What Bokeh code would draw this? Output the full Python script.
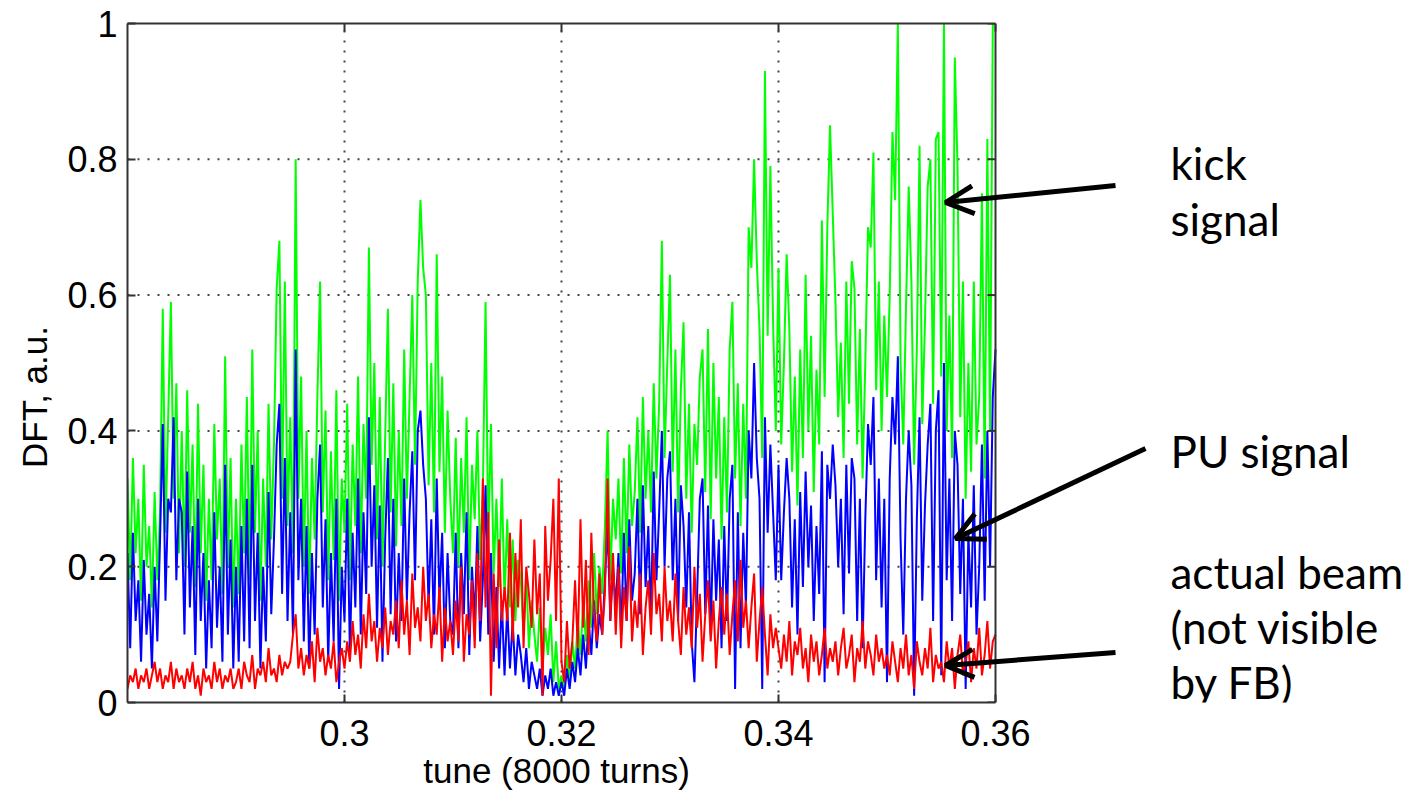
import numpy as np
from bokeh.plotting import figure
from bokeh.models import (Range1d, FixedTicker, CustomJSTickFormatter, Label,
                          Arrow, OpenHead, LinearAxis, Title)
from bokeh.embed import file_html
from bokeh.resources import INLINE

# ---------------- data ----------------
TUNE_START = 0.28
TUNE_STEP = 0.00025  # plotted every second DFT bin

kick_signal = [
    0.33, 0.18, 0.36, 0.22, 0.30, 0.15, 0.35, 0.20, 0.26, 0.14, 0.31, 0.18, 0.28, 0.58, 0.25, 0.42, 0.59, 0.30, 0.47, 0.22,
    0.40, 0.20, 0.46, 0.25, 0.38, 0.17, 0.44, 0.22, 0.35, 0.15, 0.30, 0.18, 0.41, 0.24, 0.33, 0.16, 0.51, 0.20, 0.36, 0.14,
    0.30, 0.16, 0.38, 0.22, 0.45, 0.18, 0.52, 0.25, 0.40, 0.15, 0.33, 0.20, 0.44, 0.24, 0.38, 0.61, 0.68, 0.30, 0.62, 0.26,
    0.42, 0.22, 0.80, 0.30, 0.48, 0.20, 0.40, 0.16, 0.36, 0.24, 0.45, 0.62, 0.28, 0.43, 0.18, 0.37, 0.21, 0.46, 0.15, 0.33,
    0.25, 0.44, 0.18, 0.38, 0.26, 0.48, 0.22, 0.41, 0.30, 0.67, 0.35, 0.50, 0.24, 0.45, 0.20, 0.39, 0.58, 0.28, 0.47, 0.23,
    0.40, 0.26, 0.52, 0.30, 0.45, 0.60, 0.35, 0.62, 0.74, 0.64, 0.60, 0.32, 0.50, 0.28, 0.66, 0.34, 0.48, 0.25, 0.43, 0.30,
    0.22, 0.39, 0.20, 0.36, 0.25, 0.42, 0.18, 0.35, 0.27, 0.40, 0.21, 0.31, 0.59, 0.24, 0.41, 0.19, 0.30, 0.17, 0.33, 0.15,
    0.27, 0.14, 0.24, 0.12, 0.21, 0.18, 0.10, 0.19, 0.08, 0.15, 0.10, 0.06, 0.14, 0.05, 0.11, 0.07, 0.13, 0.03, 0.09, 0.02,
    0.04, 0.02, 0.07, 0.03, 0.09, 0.05, 0.12, 0.07, 0.15, 0.09, 0.18, 0.11, 0.22, 0.13, 0.20, 0.16, 0.26, 0.40, 0.18, 0.30,
    0.24, 0.33, 0.19, 0.36, 0.22, 0.38, 0.26, 0.31, 0.42, 0.25, 0.45, 0.30, 0.40, 0.28, 0.47, 0.33, 0.44, 0.68, 0.36, 0.50,
    0.63, 0.34, 0.52, 0.28, 0.46, 0.56, 0.30, 0.44, 0.25, 0.41, 0.35, 0.48, 0.52, 0.31, 0.55, 0.27, 0.50, 0.33, 0.45, 0.24,
    0.42, 0.28, 0.52, 0.59, 0.33, 0.47, 0.26, 0.44, 0.30, 0.70, 0.64, 0.80, 0.65, 0.55, 0.36, 0.93, 0.54, 0.79, 0.56, 0.40,
    0.64, 0.38, 0.50, 0.66, 0.55, 0.34, 0.48, 0.29, 0.52, 0.36, 0.63, 0.40, 0.54, 0.31, 0.49, 0.38, 0.71, 0.45, 0.70, 0.85,
    0.72, 0.59, 0.42, 0.53, 0.36, 0.62, 0.44, 0.65, 0.61, 0.38, 0.55, 0.33, 0.50, 0.70, 0.67, 0.81, 0.46, 0.62, 0.40, 0.57,
    0.45, 0.60, 0.84, 0.74, 1.00, 0.50, 0.38, 0.58, 0.76, 0.62, 0.35, 0.52, 0.82, 0.41, 0.56, 0.76, 0.80, 0.44, 0.83, 0.84,
    0.48, 1.00, 0.40, 0.57, 0.36, 0.95, 0.79, 0.42, 0.62, 0.30, 0.50, 0.34, 0.62, 0.38, 0.45, 0.75, 0.33, 0.83, 0.40, 1.00, 1.00,
]

pu_signal = [
    0.22, 0.08, 0.25, 0.12, 0.18, 0.06, 0.21, 0.10, 0.16, 0.05, 0.20, 0.09, 0.24, 0.41, 0.15, 0.30, 0.28, 0.42, 0.18, 0.30,
    0.28, 0.10, 0.34, 0.14, 0.26, 0.07, 0.30, 0.12, 0.22, 0.05, 0.18, 0.08, 0.28, 0.11, 0.20, 0.06, 0.35, 0.10, 0.24, 0.05,
    0.20, 0.06, 0.26, 0.09, 0.30, 0.08, 0.35, 0.12, 0.25, 0.05, 0.20, 0.09, 0.31, 0.13, 0.24, 0.38, 0.44, 0.16, 0.36, 0.12,
    0.28, 0.10, 0.52, 0.18, 0.30, 0.09, 0.26, 0.05, 0.22, 0.10, 0.30, 0.38, 0.14, 0.27, 0.06, 0.22, 0.09, 0.30, 0.02, 0.20,
    0.12, 0.30, 0.07, 0.25, 0.14, 0.33, 0.10, 0.28, 0.16, 0.42, 0.20, 0.32, 0.11, 0.29, 0.06, 0.24, 0.36, 0.13, 0.30, 0.09,
    0.22, 0.12, 0.33, 0.15, 0.28, 0.37, 0.18, 0.40, 0.43, 0.35, 0.30, 0.14, 0.27, 0.10, 0.33, 0.15, 0.25, 0.08, 0.22, 0.12,
    0.10, 0.25, 0.08, 0.22, 0.13, 0.28, 0.07, 0.20, 0.12, 0.26, 0.09, 0.18, 0.32, 0.10, 0.22, 0.06, 0.17, 0.05, 0.15, 0.04,
    0.14, 0.05, 0.12, 0.04, 0.10, 0.07, 0.03, 0.08, 0.02, 0.06, 0.04, 0.02, 0.05, 0.01, 0.04, 0.02, 0.05, 0.01, 0.03, 0.01,
    0.03, 0.01, 0.05, 0.02, 0.06, 0.03, 0.08, 0.04, 0.10, 0.05, 0.12, 0.07, 0.15, 0.08, 0.13, 0.10, 0.18, 0.26, 0.12, 0.20,
    0.14, 0.22, 0.10, 0.25, 0.12, 0.27, 0.15, 0.19, 0.30, 0.13, 0.32, 0.17, 0.26, 0.12, 0.34, 0.18, 0.28, 0.40, 0.20, 0.33,
    0.37, 0.18, 0.30, 0.12, 0.32, 0.26, 0.14, 0.28, 0.09, 0.03, 0.16, 0.30, 0.33, 0.13, 0.29, 0.10, 0.27, 0.15, 0.24, 0.08,
    0.26, 0.12, 0.30, 0.35, 0.02, 0.28, 0.08, 0.25, 0.14, 0.40, 0.33, 0.50, 0.36, 0.30, 0.02, 0.42, 0.25, 0.38, 0.28, 0.18,
    0.35, 0.18, 0.28, 0.36, 0.30, 0.14, 0.27, 0.10, 0.31, 0.17, 0.34, 0.20, 0.29, 0.12, 0.26, 0.16, 0.37, 0.03, 0.35, 0.30,
    0.38, 0.32, 0.20, 0.30, 0.13, 0.35, 0.19, 0.36, 0.33, 0.12, 0.30, 0.08, 0.27, 0.41, 0.35, 0.45, 0.18, 0.33, 0.14, 0.30,
    0.03, 0.33, 0.45, 0.38, 0.51, 0.24, 0.10, 0.30, 0.40, 0.32, 0.01, 0.27, 0.42, 0.15, 0.29, 0.38, 0.44, 0.12, 0.40, 0.46,
    0.04, 0.50, 0.18, 0.33, 0.12, 0.40, 0.35, 0.16, 0.30, 0.02, 0.25, 0.14, 0.32, 0.10, 0.20, 0.38, 0.15, 0.40, 0.20, 0.45, 0.52,
]

actual_beam = [
    0.02, 0.04, 0.03, 0.05, 0.02, 0.04, 0.03, 0.05, 0.02, 0.04, 0.06, 0.03, 0.05, 0.02, 0.04, 0.03, 0.06, 0.02, 0.05, 0.03,
    0.04, 0.02, 0.05, 0.03, 0.06, 0.02, 0.04, 0.01, 0.05, 0.03, 0.04, 0.02, 0.06, 0.03, 0.05, 0.02, 0.04, 0.03, 0.05, 0.02,
    0.03, 0.05, 0.02, 0.06, 0.04, 0.03, 0.07, 0.02, 0.05, 0.04, 0.06, 0.03, 0.08, 0.04, 0.05, 0.03, 0.07, 0.04, 0.06, 0.05,
    0.06, 0.10, 0.13, 0.05, 0.08, 0.04, 0.07, 0.05, 0.09, 0.03, 0.11, 0.06, 0.08, 0.04, 0.07, 0.05, 0.09, 0.03, 0.06, 0.08,
    0.05, 0.09, 0.06, 0.12, 0.07, 0.10, 0.05, 0.13, 0.08, 0.16, 0.09, 0.12, 0.06, 0.11, 0.08, 0.14, 0.07, 0.12, 0.10, 0.15,
    0.08, 0.18, 0.10, 0.15, 0.07, 0.19, 0.11, 0.14, 0.09, 0.20, 0.12, 0.16, 0.08, 0.13, 0.10, 0.17, 0.06, 0.14, 0.09, 0.12,
    0.07, 0.15, 0.09, 0.20, 0.06, 0.13, 0.10, 0.18, 0.08, 0.22, 0.12, 0.33, 0.14, 0.28, 0.01, 0.19, 0.08, 0.24, 0.12, 0.17,
    0.12, 0.25, 0.09, 0.22, 0.14, 0.27, 0.08, 0.20, 0.16, 0.11, 0.24, 0.13, 0.19, 0.01, 0.26, 0.15, 0.21, 0.30, 0.12, 0.33,
    0.06, 0.03, 0.12, 0.05, 0.09, 0.18, 0.08, 0.27, 0.11, 0.21, 0.07, 0.25, 0.13, 0.09, 0.19, 0.10, 0.16, 0.33, 0.12, 0.22,
    0.10, 0.20, 0.08, 0.17, 0.12, 0.23, 0.09, 0.15, 0.11, 0.19, 0.07, 0.14, 0.18, 0.10, 0.22, 0.13, 0.16, 0.09, 0.20, 0.12,
    0.15, 0.09, 0.19, 0.12, 0.07, 0.17, 0.10, 0.14, 0.08, 0.20, 0.11, 0.16, 0.06, 0.13, 0.18, 0.09, 0.15, 0.05, 0.12, 0.17,
    0.10, 0.16, 0.07, 0.13, 0.18, 0.09, 0.21, 0.11, 0.15, 0.08, 0.14, 0.19, 0.06, 0.12, 0.17, 0.10, 0.04, 0.13, 0.08, 0.11,
    0.08, 0.05, 0.10, 0.06, 0.12, 0.04, 0.09, 0.07, 0.11, 0.05, 0.08, 0.03, 0.10, 0.06, 0.09, 0.04, 0.07, 0.11, 0.05, 0.08,
    0.06, 0.09, 0.04, 0.08, 0.11, 0.05, 0.07, 0.10, 0.03, 0.08, 0.06, 0.12, 0.05, 0.09, 0.07, 0.04, 0.10, 0.06, 0.08, 0.05,
    0.07, 0.04, 0.09, 0.06, 0.03, 0.08, 0.05, 0.10, 0.04, 0.07, 0.02, 0.09, 0.06, 0.04, 0.08, 0.05, 0.11, 0.03, 0.07, 0.05,
    0.06, 0.03, 0.09, 0.05, 0.08, 0.02, 0.07, 0.10, 0.04, 0.06, 0.09, 0.03, 0.08, 0.05, 0.11, 0.04, 0.07, 0.12, 0.05, 0.09, 0.10,
]

tune = [round(TUNE_START + TUNE_STEP * i, 5) for i in range(len(kick_signal))]

X_MIN, X_MAX = 0.28, 0.36
x_ticks = [0.30, 0.32, 0.34, 0.36]
y_ticks = [0.0, 0.2, 0.4, 0.6, 0.8, 1.0]
x_label = "tune (8000 turns)"
y_label = "DFT, a.u."

annot_lines = ["kick", "signal", "PU signal", "actual beam", "(not visible", "by FB)"]

# ---------------- layout (reference pixels) ----------------
FX0, FX1, FY0, FY1 = 127.0, 995.0, 23.0, 702.0   # axes box edges in the page
BOX_W = FX1 - FX0
FRAME_W = 1290                                      # frame also holds the notes
XLABEL_CENTER = 556                                 # page x of the x-title centre
XLABEL_SIZE = 35


def dx(px):
    return X_MIN + (px - FX0) * (X_MAX - X_MIN) / BOX_W


def dy(py):
    return (FY1 - py) / (FY1 - FY0)


p = figure(frame_width=FRAME_W, frame_height=int(FY1 - FY0),
           x_range=Range1d(X_MIN, dx(FX0 + FRAME_W)), y_range=Range1d(0, 1),
           min_border_left=int(FX0), min_border_top=int(FY0),
           min_border_right=0, min_border_bottom=88,
           output_backend="svg", toolbar_location=None,
           background_fill_color="white", border_fill_color="white")
p.outline_line_color = None

AX_COL = "#333333"
tick_dx = 8 * (X_MAX - X_MIN) / BOX_W

# dotted horizontal grid, limited to the axes box
p.segment(x0=X_MIN, x1=X_MAX, y0=y_ticks[1:-1], y1=y_ticks[1:-1],
          line_color="#444444", line_width=2, line_dash="2 8")

# data
p.line(tune, kick_signal, line_color="#00ff00", line_width=2)
p.line(tune, pu_signal, line_color="#0000ff", line_width=2)
p.line(tune, actual_beam, line_color="#ff0000", line_width=2)

# right edge of the box with inward ticks
p.segment(x0=[X_MAX], x1=[X_MAX], y0=[0], y1=[1], line_color=AX_COL, line_width=2)
p.segment(x0=X_MAX - tick_dx, x1=X_MAX, y0=y_ticks, y1=y_ticks, line_color=AX_COL, line_width=2)

xaxis = p.below[0]
yaxis = p.left[0]
top = LinearAxis(bounds=(X_MIN, X_MAX))
p.add_layout(top, "above")

fmt = CustomJSTickFormatter(code="return String(parseFloat(tick.toFixed(3)));")
for ax, ticks in ((xaxis, x_ticks), (yaxis, y_ticks), (top, x_ticks)):
    ax.ticker = FixedTicker(ticks=ticks)
    ax.formatter = fmt
    ax.major_label_text_font = "Liberation Sans"
    ax.major_label_text_font_size = "36px"
    ax.major_label_text_color = "black"
    ax.axis_label_text_font = "Liberation Sans"
    ax.axis_label_text_font_size = "35px"
    ax.axis_label_text_font_style = "normal"
    ax.axis_label_text_color = "black"
    ax.axis_line_color = AX_COL
    ax.axis_line_width = 2
    ax.major_tick_line_color = AX_COL
    ax.major_tick_line_width = 2
    ax.major_tick_in = 8
    ax.major_tick_out = 0
    ax.minor_tick_line_color = None

top.formatter = CustomJSTickFormatter(code="return '';")
top.major_label_text_font_size = "1px"
top.major_label_standoff = 0
xaxis.bounds = (X_MIN, X_MAX)

yaxis.axis_label = y_label + "\u00a0" * 7
xaxis.major_label_standoff = 17
yaxis.major_label_standoff = 10
yaxis.axis_label_standoff = 10

# x-axis title, centred under the axes box (not under the wider frame)
xlabel_w = 7.615 * XLABEL_SIZE   # Liberation Sans advance width of the title
p.add_layout(Title(text=x_label, align="left",
                   offset=XLABEL_CENTER - FX0 - xlabel_w / 2,
                   text_font="Liberation Sans", text_font_size=f"{XLABEL_SIZE}px",
                   text_font_style="normal", text_color="black", standoff=0),
             "below")

p.xgrid.ticker = FixedTicker(ticks=x_ticks[:-1])
p.ygrid.visible = False
p.xgrid.grid_line_color = "#444444"
p.xgrid.grid_line_width = 2
p.xgrid.grid_line_dash = "2 8"

# annotations to the right of the axes
text_x = dx(1170)
baselines = [162, 218, 450, 571, 626, 681]
for txt, by in zip(annot_lines, baselines):
    p.add_layout(Label(x=text_x, y=dy(by), text=txt, text_font="Lato",
                       text_font_size="44px", text_color="black",
                       text_align="left", text_baseline="alphabetic"))

arrows = [((1115, 185), (945, 202)), ((1145, 448), (955, 538)), ((1115, 652), (945, 665))]
for (tx, ty), (hx, hy) in arrows:
    p.add_layout(Arrow(x_start=dx(tx), y_start=dy(ty), x_end=dx(hx), y_end=dy(hy),
                       line_color="black", line_width=5,
                       end=OpenHead(size=28, line_width=5, line_color="black")))

open("out.html", "w").write(file_html(p, INLINE))
